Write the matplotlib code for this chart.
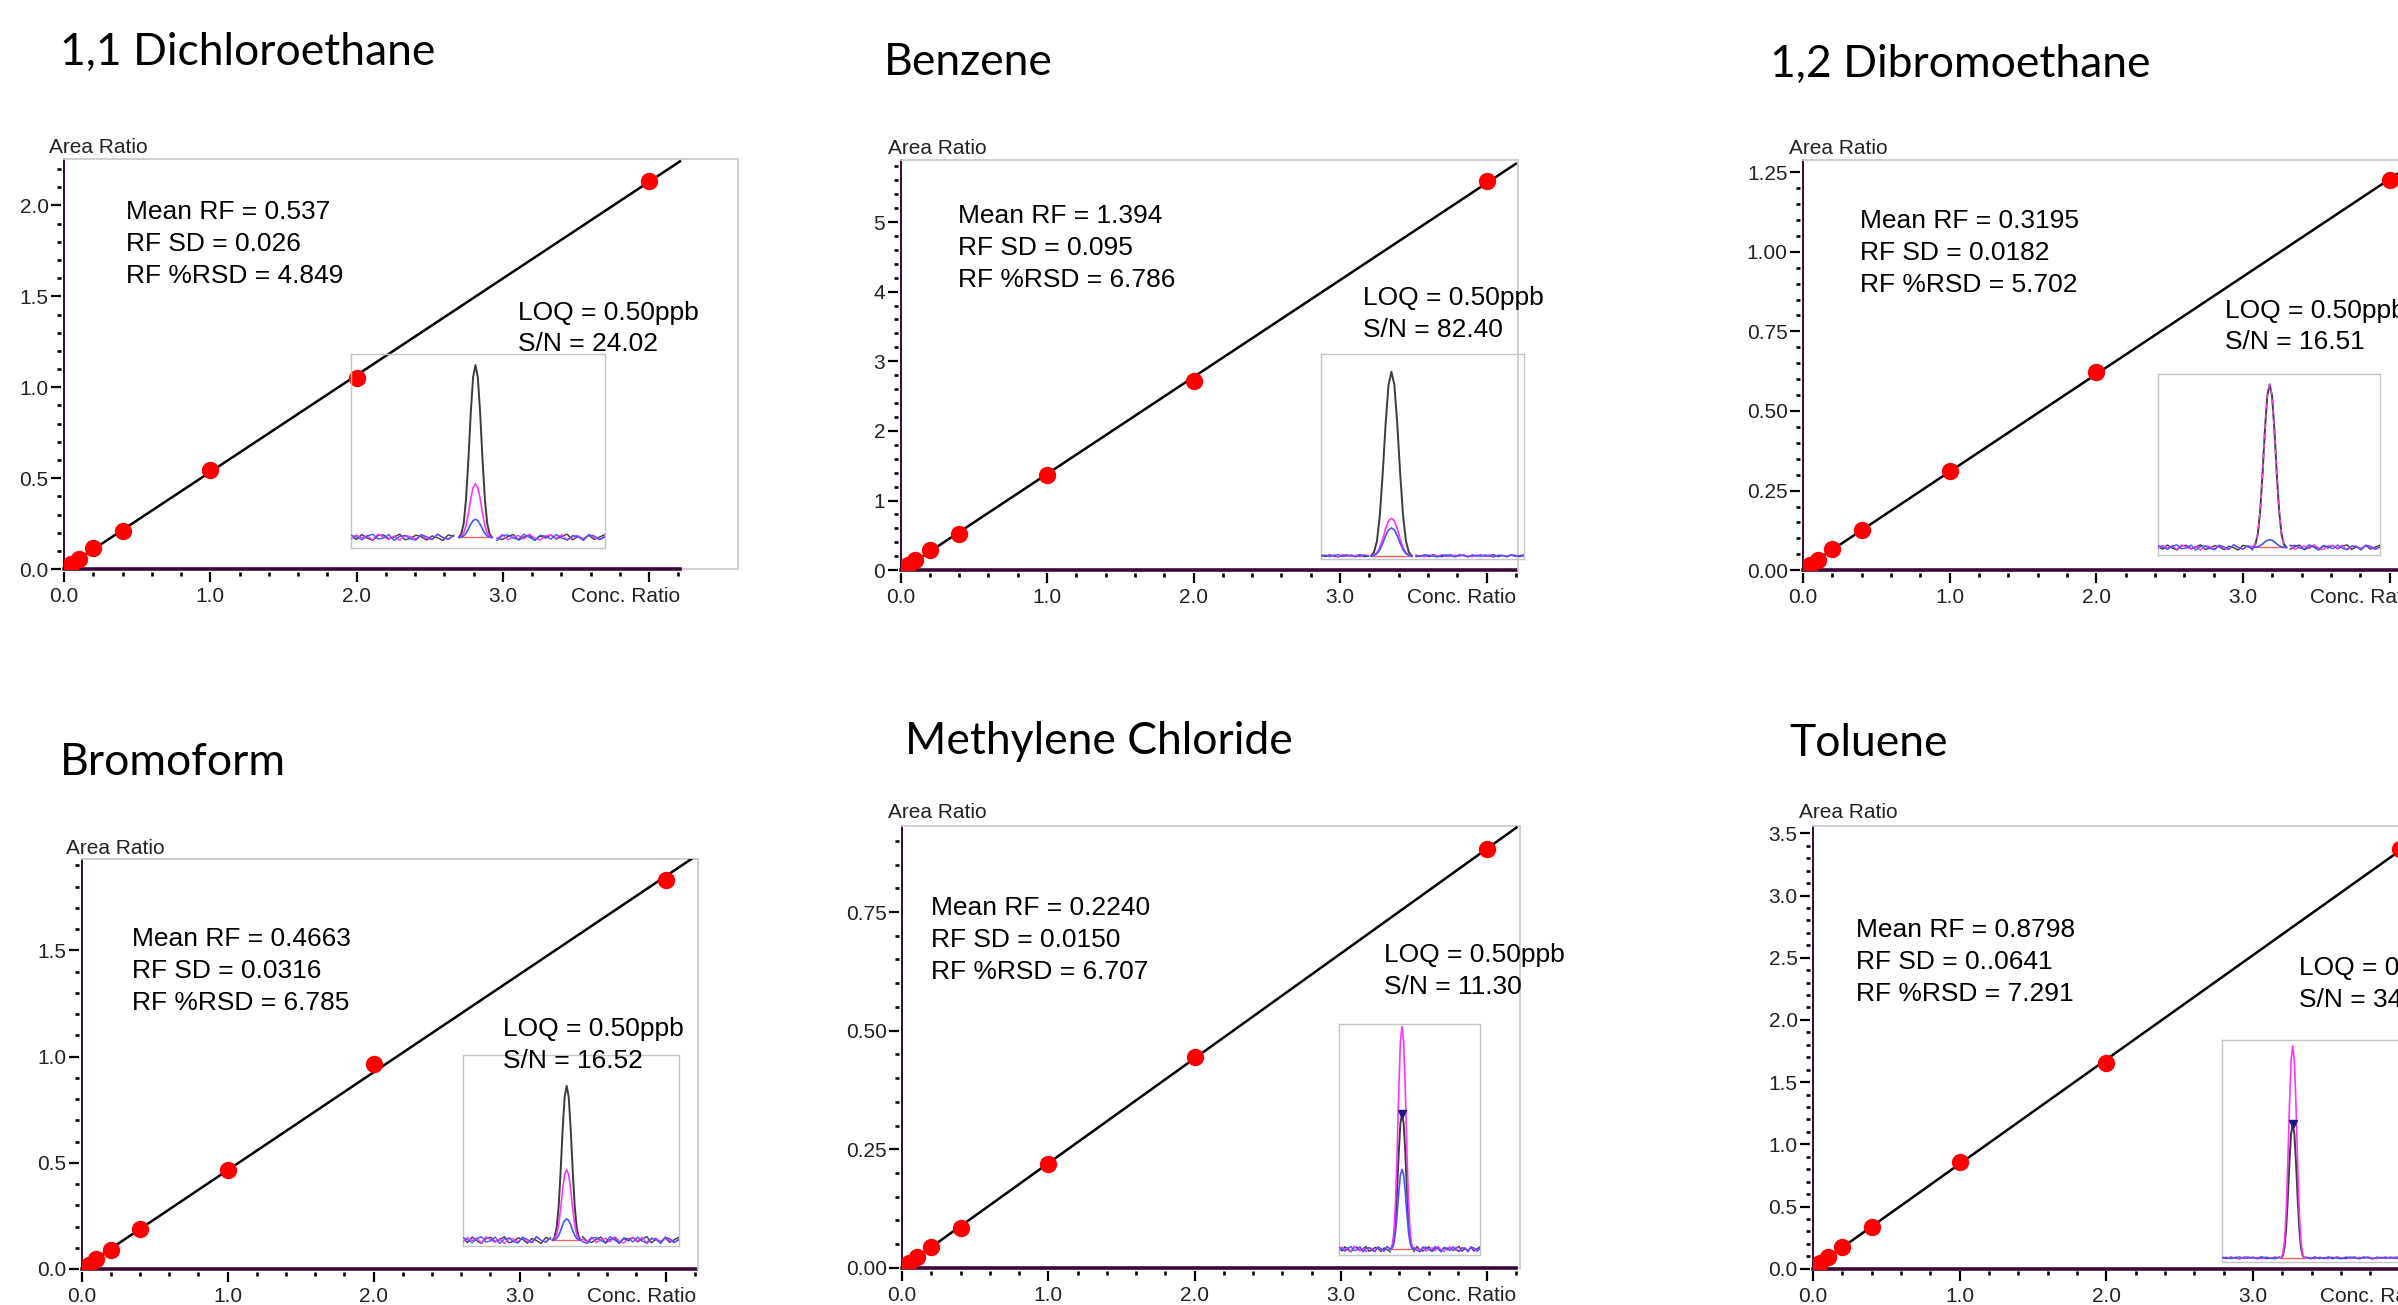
import numpy as np
import matplotlib
matplotlib.use("Agg")
import matplotlib.pyplot as plt
from matplotlib import font_manager
from matplotlib.ticker import FixedLocator, MultipleLocator, FormatStrFormatter

W, H = 2398, 1305

# calibration data (conc. ratio vs area ratio)
conc = [0.0, 0.05, 0.1, 0.2, 0.4, 1.0, 2.0, 4.0]
dce_ratio = [0.0, 0.03, 0.055, 0.115, 0.212, 0.543, 1.05, 2.137]
benzene_ratio = [0.0, 0.07, 0.15, 0.29, 0.52, 1.36, 2.72, 5.59]
dbe_ratio = [0.0, 0.016, 0.033, 0.066, 0.126, 0.312, 0.622, 1.225]
bromoform_ratio = [0.0, 0.02, 0.048, 0.09, 0.187, 0.465, 0.963, 1.83]
mc_ratio = [0.0, 0.011, 0.023, 0.045, 0.084, 0.218, 0.445, 0.883]
toluene_ratio = [0.0, 0.045, 0.093, 0.177, 0.334, 0.856, 1.656, 3.37]
ratios = [dce_ratio, benzene_ratio, dbe_ratio, bromoform_ratio, mc_ratio, toluene_ratio]

titles = ["1,1 Dichloroethane", "Benzene", "1,2 Dibromoethane",
          "Bromoform", "Methylene Chloride", "Toluene"]
mean_rf = ["0.537", "1.394", "0.3195", "0.4663", "0.2240", "0.8798"]
rf_sd = ["0.026", "0.095", "0.0182", "0.0316", "0.0150", "0..0641"]
rf_rsd = ["4.849", "6.786", "5.702", "6.785", "6.707", "7.291"]
loq = ["0.50ppb", "0.50ppb", "0.50ppb", "0.50ppb", "0.50ppb", "0.50ppb"]
sn = ["24.02", "82.40", "16.51", "16.52", "11.30", "34"]  # last one runs off the edge

# chromatogram insets (fractions of the inset box)
peak_shape = [0.0, 0.02, 0.08, 0.22, 0.45, 0.72, 0.93, 1.0, 0.93, 0.72, 0.45, 0.22, 0.08, 0.02, 0.0]
peak_center = [0.49, 0.347, 0.503, 0.48, 0.447, 0.34]
peak_width = [0.13, 0.2, 0.15, 0.13, 0.16, 0.11]
baseline_level = [0.055, 0.018, 0.042, 0.031, 0.024, 0.018]
noise_amp = [0.018, 0.006, 0.016, 0.02, 0.013, 0.005]
black_height = [0.888, 0.897, 0.898, 0.809, 0.586, 0.600]
magenta_height = [0.276, 0.183, 0.898, 0.369, 0.963, 0.953]
blue_height = [0.093, 0.136, 0.042, 0.111, 0.345, 0.0]
noise_k = [0.3, -0.6, 0.8, -0.2, -0.9, 0.5, 0.7, -0.4, 0.1, 0.9, -0.7, -0.3, 0.6, 0.2, -0.8, 0.4,
           -0.1, -0.9, 0.7, 0.3, -0.5, 0.8, -0.6, 0.0, 0.5, -0.7, 0.9, -0.3, -0.6, 0.2, 0.8, -0.8,
           0.1, 0.6, -0.9, 0.4, -0.2, 0.7, -0.5, 0.3, 0.9, -0.7, 0.2, -0.4, 0.6, -0.6, 0.1, 0.8]
noise_m = [-0.4, 0.7, -0.2, 0.5, -0.8, 0.9, 0.1, -0.6, 0.4, -0.9, 0.6, 0.2, -0.5, 0.8, -0.3, -0.7,
           0.9, 0.0, -0.6, 0.5, 0.3, -0.8, 0.7, -0.1, -0.9, 0.6, 0.2, -0.4, 0.8, -0.7, 0.1, 0.5,
           -0.5, 0.9, -0.2, -0.8, 0.4, 0.6, -0.3, 0.7, -0.9, 0.2, 0.5, -0.6, 0.8, -0.1, -0.7, 0.3]
noise_b = [0.6, 0.1, -0.7, 0.4, 0.9, -0.5, -0.2, 0.8, -0.9, 0.3, 0.5, -0.4, -0.8, 0.7, 0.2, -0.6,
           0.9, -0.1, -0.5, 0.6, -0.9, 0.4, 0.1, -0.7, 0.8, 0.3, -0.4, -0.9, 0.5, 0.7, -0.2, -0.6,
           0.9, 0.0, -0.8, 0.6, 0.3, -0.5, 0.8, -0.3, -0.7, 0.5, 0.2, -0.9, 0.7, 0.4, -0.6, 0.1]
peak_marker = [False, False, False, False, True, True]
magenta_dashed = [False, False, True, False, False, False]

# panel layout in pixels of the 2398x1305 canvas
layout = [
    dict(x0=64, y0=569.1, ppx=146.3, ppy=181.8, right=738, top=158.8, axis_end=4.21,
         ymaj=0.5, ymin=0.1, fmt="%.1f", title=(60, 65), ylab=(49, 153),
         stats=(125.5, 219), loq=(518, 319.6), inset=(351, 354, 605, 548)),
    dict(x0=900.5, y0=570.2, ppx=146.5, ppy=69.64, right=1518, top=160, axis_end=4.2,
         ymaj=1, ymin=0.2, fmt="%d", title=(884, 74.6), ylab=(888, 154),
         stats=(958, 223), loq=(1363, 305.4), inset=(1321, 354.4, 1524, 559.5)),
    dict(x0=1803, y0=570.2, ppx=146.7, ppy=318.4, right=2430, top=160, axis_end=4.2,
         ymaj=0.25, ymin=0.05, fmt="%.2f", title=(1770, 76.5), ylab=(1789, 154),
         stats=(1860, 228.5), loq=(2225, 317.6), inset=(2158, 373.5, 2380, 555)),
    dict(x0=81.6, y0=1269, ppx=146, ppy=212.5, right=698, top=859.4, axis_end=4.21,
         ymaj=0.5, ymin=0.1, fmt="%.1f", title=(60, 774.9), ylab=(66, 854.2),
         stats=(132, 946.2), loq=(503, 1035.9), inset=(463, 1055.4, 679, 1246)),
    dict(x0=902, y0=1267.9, ppx=146.3, ppy=474.5, right=1520, top=825.5, axis_end=4.2,
         ymaj=0.25, ymin=0.05, fmt="%.2f", title=(904.6, 753.7), ylab=(888, 818.3),
         stats=(931, 915.2), loq=(1384, 962.2), inset=(1339, 1023.6, 1480, 1254.7)),
    dict(x0=1813, y0=1268.7, ppx=146.7, ppy=124.4, right=2440, top=825.5, axis_end=4.2,
         ymaj=0.5, ymin=0.1, fmt="%.1f", title=(1789, 755.7), ylab=(1799, 818.3),
         stats=(1856, 937), loq=(2299, 974.9), inset=(2222, 1039.5, 2430, 1261.9)),
]

installed = {f.name for f in font_manager.fontManager.ttflist}
TITLE_FONT = ["Lato", "DejaVu Sans"] if "Lato" in installed else ["DejaVu Sans"]
TEXT_FONT = ["Liberation Sans", "DejaVu Sans"] if "Liberation Sans" in installed else ["DejaVu Sans"]
plt.rcParams["font.family"] = TEXT_FONT

PURPLE = "#3a0838"
FRAME = "#cccccc"
LINE_GAP = 31.8


def px_axes(fig, left, top, right, bottom):
    return fig.add_axes([left / W, 1 - bottom / H, (right - left) / W, (bottom - top) / H])


def px_text(fig, x, y, s, **kw):
    fig.text(x / W, 1 - y / H, s, va="baseline", ha="left", **kw)


def draw_inset(fig, i, box):
    ins = px_axes(fig, *box)
    ins.set_xlim(0, 1)
    ins.set_ylim(0, 1)
    ins.set_xticks([])
    ins.set_yticks([])
    ins.patch.set_alpha(0)
    for s in ins.spines.values():
        s.set_color("#c4c4c4")
        s.set_linewidth(1.0)

    c, w, base, amp = peak_center[i], peak_width[i], baseline_level[i], noise_amp[i]
    shape = np.array(peak_shape)
    px = c + w * (np.arange(len(shape)) / (len(shape) - 1) - 0.5)
    traces = [(noise_k, black_height[i], "#3c3c3c", 1.4),
              (noise_m, magenta_height[i], "#ff33ff", 1.2),
              (noise_b, blue_height[i], "#4455ff", 1.2)]
    ins.plot([c - w / 2, c + w / 2], [base, base], color="#ff6060", lw=1.0, zorder=1)
    for k, (noise, h, col, lw) in enumerate(traces):
        nx = np.linspace(0, 1, len(noise))
        ny = base + amp * np.array(noise)
        ny = np.where(np.abs(nx - c) < w / 2, np.nan, ny)
        ins.plot(nx, ny, color=col, lw=1.0, zorder=2 + k)
        if h <= 0:
            continue
        ls = (0, (3, 3)) if (k == 1 and magenta_dashed[i]) else "-"
        ins.plot(px, base + h * shape, color=col, lw=lw, ls=ls, zorder=2 + k)
    if peak_marker[i]:
        ins.plot([c], [base + black_height[i]], marker="v", color="#1a1a80", ms=6, zorder=6)


fig = plt.figure(figsize=(W / 100, H / 100), dpi=100)
fig.patch.set_facecolor("white")

for i, lay in enumerate(layout):
    x0, y0, ppx, ppy = lay["x0"], lay["y0"], lay["ppx"], lay["ppy"]
    ax = px_axes(fig, x0, lay["top"], lay["right"], y0)
    xmax = (lay["right"] - x0) / ppx
    ymax = (y0 - lay["top"]) / ppy
    ax.set_xlim(0, xmax)
    ax.set_ylim(0, ymax)
    end = lay["axis_end"]

    for s in ["top", "right"]:
        ax.spines[s].set_color(FRAME)
        ax.spines[s].set_linewidth(1.3)
    for s in ["left", "bottom"]:
        ax.spines[s].set_position(("outward", 2))
        ax.spines[s].set_color("none")
    ax.axhline(0, xmin=end / xmax, xmax=1, color=FRAME, lw=1.3, clip_on=False)
    ax.axhline(0, xmin=0, xmax=end / xmax, color=PURPLE, lw=2.6, clip_on=False, zorder=2.5)
    ax.axvline(0, color=PURPLE, lw=1.4, clip_on=False, zorder=2.5)

    # fitted line and calibration points
    slope, icpt = np.polyfit(conc, ratios[i], 1)
    xs = np.array([0.0, end])
    ax.plot(xs, slope * xs + icpt, color="black", lw=1.8, zorder=3)
    ax.plot(conc, ratios[i], "o", color="#ff0000", ms=12.5, mec="none", zorder=4)

    ax.xaxis.set_major_locator(FixedLocator([0, 1, 2, 3, 4]))
    ax.set_xticklabels(["0.0", "1.0", "2.0", "3.0", ""])
    minors = [v for v in np.arange(0.2, end + 0.01, 0.2) if abs(v - round(v)) > 0.05]
    ax.xaxis.set_minor_locator(FixedLocator(minors))
    ax.yaxis.set_major_locator(MultipleLocator(lay["ymaj"]))
    ax.yaxis.set_minor_locator(MultipleLocator(lay["ymin"]))
    ax.yaxis.set_major_formatter(FormatStrFormatter(lay["fmt"]))
    ax.tick_params(which="major", direction="out", length=7.5, width=1.6, color="black",
                   labelsize=15, labelcolor="#222222")
    ax.tick_params(which="minor", direction="out", length=3.2, width=1.9, color="black")
    ax.tick_params(axis="x", which="major", pad=3.5)
    ax.tick_params(axis="y", which="major", pad=1.5)
    ax.annotate("Conc. Ratio", xy=(end, 0), xycoords="data", xytext=(0, -13),
                textcoords="offset points", ha="right", va="top", fontsize=15,
                color="#222222", annotation_clip=False)

    draw_inset(fig, i, lay["inset"])

    px_text(fig, *lay["title"], titles[i], fontsize=32, family=TITLE_FONT, color="black")
    px_text(fig, *lay["ylab"], "Area Ratio", fontsize=15, color="#222222")
    sx, sy = lay["stats"]
    for k, line in enumerate([f"Mean RF = {mean_rf[i]}", f"RF SD = {rf_sd[i]}",
                              f"RF %RSD = {rf_rsd[i]}"]):
        px_text(fig, sx, sy + k * LINE_GAP, line, fontsize=19, color="black")
    lx, ly = lay["loq"]
    px_text(fig, lx, ly, f"LOQ = {loq[i]}", fontsize=19, color="black")
    px_text(fig, lx, ly + LINE_GAP, f"S/N = {sn[i]}", fontsize=19, color="black")

fig.savefig("out.png", dpi=100, facecolor="white")
